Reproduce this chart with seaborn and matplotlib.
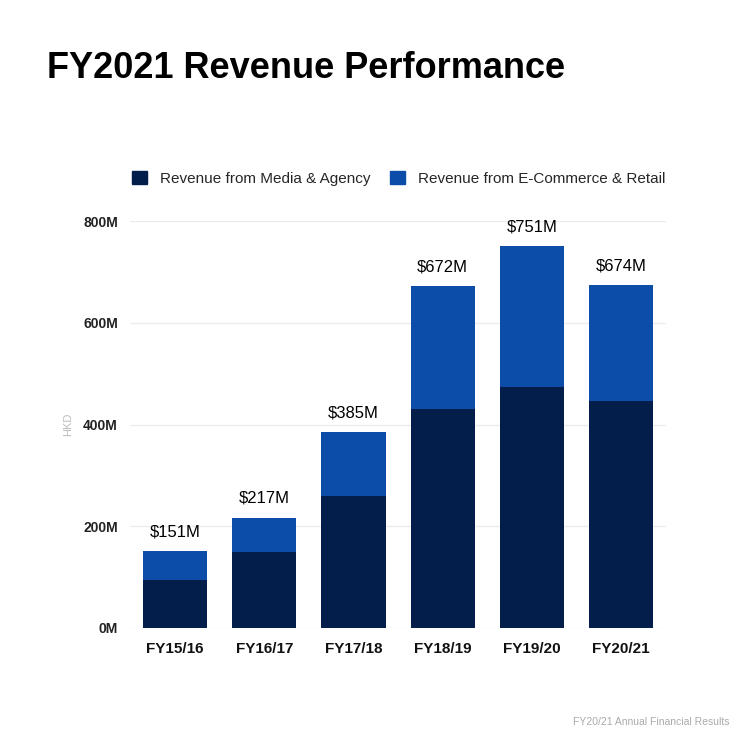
import pandas as pd
import matplotlib
matplotlib.use('Agg')
import matplotlib.pyplot as plt
import matplotlib.patches as patches
import seaborn as sns

# data (HKD, millions)
years = ['FY15/16', 'FY16/17', 'FY17/18', 'FY18/19', 'FY19/20', 'FY20/21']
media_agency = [95, 150, 259, 430, 473, 446]
totals = [151, 217, 385, 672, 751, 674]
y_ticks = [0, 200, 400, 600, 800]

navy = '#041E4B'
blue = '#0C4DA9'

sns.set_theme(style='white')
plt.rcParams['font.family'] = ['Liberation Sans', 'DejaVu Sans']

df = pd.DataFrame({'year': years, 'media': media_agency, 'total': totals})

fig = plt.figure(figsize=(7.5, 7.5), dpi=100)
ax = fig.add_axes([0.1739, 0.1627, 0.7136, 0.5426])

# total bar drawn first, media part on top of it -> stacked look
sns.barplot(data=df, x='year', y='total', color=blue, saturation=1, width=0.72, linewidth=0, ax=ax)
sns.barplot(data=df, x='year', y='media', color=navy, saturation=1, width=0.72, linewidth=0, ax=ax)

ax.set_ylim(0, 800)
ax.set_xlim(-0.5, len(years) - 0.5)
ax.set_yticks(y_ticks)
ax.set_yticklabels([f'{v}M' for v in y_ticks], fontsize=10, fontweight='bold', color='#222222')
ax.set_xticks(range(len(years)))
ax.set_xticklabels(years, fontsize=11, fontweight='bold', color='#111111')
ax.tick_params(axis='y', pad=9, length=0)
ax.tick_params(axis='x', pad=10, length=0)
ax.set_xlabel('')
ax.set_ylabel('HKD', fontsize=8, color='#bbbbbb', labelpad=7)
ax.yaxis.grid(True, color='#ececec', linewidth=1)
ax.set_axisbelow(True)
for s in ax.spines.values():
    s.set_visible(False)

for i, t in enumerate(totals):
    ax.text(i, t + 23, f'${t}M', ha='center', va='bottom', fontsize=12, color='black', clip_on=False)

# legend
h1 = patches.Patch(color=navy, label='Revenue from Media & Agency')
h2 = patches.Patch(color=blue, label='Revenue from E-Commerce & Retail')
fig.legend(handles=[h1, h2], loc='center left', bbox_to_anchor=(0.158, 0.762), ncol=2, frameon=False,
           fontsize=11, handlelength=0.95, handleheight=0.95, handletextpad=0.85, columnspacing=1.3)

fig.text(0.063, 0.909, 'FY2021 Revenue Performance', fontsize=26, fontweight='bold', color='black', va='center')
fig.text(0.973, 0.037, 'FY20/21 Annual Financial Results', fontsize=7.5, color='#aaaaaa', ha='right', va='center')

fig.savefig('out.png', dpi=100, facecolor='white')
